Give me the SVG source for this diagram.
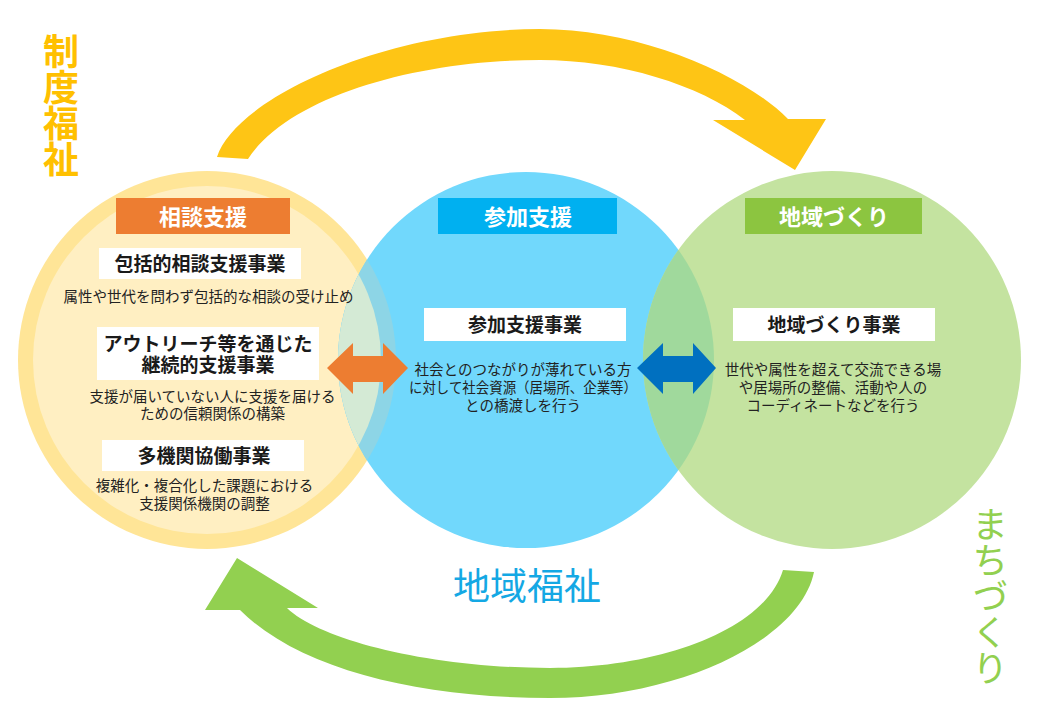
<svg xmlns="http://www.w3.org/2000/svg" width="1040" height="720" viewBox="0 0 1040 720">
<style>
text{font-family:"Noto Sans CJK JP","Noto Sans",sans-serif;}
.hd{font-size:22px;font-weight:700;fill:#fff;text-anchor:middle}
.sub{font-size:19px;font-weight:700;fill:#1a1a1a;text-anchor:middle}
.body{font-size:14.5px;fill:#222;text-anchor:middle}
.wbox{fill:#fff}
.vt{writing-mode:vertical-rl;font-size:36px}
</style>
<defs>
<clipPath id="clipBlue"><circle cx="526" cy="360" r="188"/></clipPath>
</defs>
<rect width="1040" height="720" fill="#fff"/>
<g id="venn">
<circle cx="207" cy="360" r="189" fill="#FFE597"/>
<circle cx="207" cy="360" r="174" fill="#FFEFC2"/>
<circle cx="526" cy="360" r="188" fill="#71D8FC"/>
<circle cx="832" cy="360" r="189" fill="#C4E3A0"/>
<g clip-path="url(#clipBlue)">
<circle cx="207" cy="360" r="189" fill="#8DD5E6"/>
<circle cx="207" cy="360" r="174" fill="#D4EAD5"/>
<circle cx="832" cy="360" r="189" fill="#A0D99C"/>
</g>
</g>
<g id="connectors">
<path id="cycle-top" fill="#FEC515" d="M217,157 C235,100 380,30 540,29 C640,29 745,75 788,119 L826,119 L795,170 L713,120 L745,120 C700,85 620,60 540,60 C420,60 290,95 248,159 Z"/>
<path id="cycle-bottom" fill="#92D050" d="M814,572 C800,640 680,698 550,698 C420,698 300,670 240,610 L205,610 L237,558 L318,608 L287,608 C320,640 430,668 550,668 C660,668 765,630 783,570 Z"/>
<polygon id="arrow-soudan-sanka" fill="#ED7D31" points="327,368 353,343 353,356 383,356 383,343 408,368 383,394 383,382 353,382 353,394"/>
<polygon id="arrow-sanka-chiiki" fill="#0070C0" points="637,368 663,343 663,356 693,356 693,343 716,368 693,394 693,382 663,382 663,394"/>
</g>
<g id="node-soudan">
<rect x="116" y="198" width="174" height="36" fill="#ED7D31"/>
<text class="hd" x="203" y="224.5">相談支援</text>
<rect class="wbox" x="99" y="248" width="202" height="31"/>
<text class="sub" x="200" y="271">包括的相談支援事業</text>
<text class="body" x="208.5" y="302">属性や世代を問わず包括的な相談の受け止め</text>
<rect class="wbox" x="97" y="327" width="222" height="53"/>
<text class="sub" x="208" y="351"><tspan x="208" y="351">アウトリーチ等を通じた</tspan><tspan x="208" y="372">継続的支援事業</tspan></text>
<text class="body" x="212.5" y="401.5"><tspan x="212.5" y="401.5">支援が届いていない人に支援を届ける</tspan><tspan x="212.5" y="418.5">ための信頼関係の構築</tspan></text>
<rect class="wbox" x="102" y="440" width="202" height="31"/>
<text class="sub" x="204" y="462.5">多機関協働事業</text>
<text class="body" x="204.5" y="490.5"><tspan x="204.5" y="490.5">複雑化・複合化した課題における</tspan><tspan x="204.5" y="508.5">支援関係機関の調整</tspan></text>
</g>
<g id="node-sanka">
<rect x="438" y="198" width="179" height="36" fill="#00B0F0"/>
<text class="hd" x="528" y="224.5">参加支援</text>
<rect class="wbox" x="424" y="308" width="202" height="33"/>
<text class="sub" x="525" y="332">参加支援事業</text>
<text class="body" x="523" y="375"><tspan x="523" y="375">社会とのつながりが薄れている方</tspan><tspan x="523" y="393" textLength="228" lengthAdjust="spacingAndGlyphs">に対して社会資源（居場所、企業等）</tspan><tspan x="523" y="411">との橋渡しを行う</tspan></text>
</g>
<g id="node-chiiki">
<rect x="745" y="198" width="177" height="36" fill="#8CC540"/>
<text class="hd" x="834" y="224.5">地域づくり</text>
<rect class="wbox" x="733" y="308" width="202" height="33"/>
<text class="sub" x="834" y="332">地域づくり事業</text>
<text class="body" x="833" y="375"><tspan x="833" y="375">世代や属性を超えて交流できる場</tspan><tspan x="833" y="393">や居場所の整備、活動や人の</tspan><tspan x="833" y="411">コーディネートなどを行う</tspan></text>
</g>
<g id="labels">
<text class="vt" x="61" y="33" fill="#FFC000" font-weight="700">制度福祉</text>
<text class="vt" x="990" y="506" fill="#92D050">まちづくり</text>
<text x="527" y="600" font-size="37" fill="#14A8E4" text-anchor="middle">地域福祉</text>
</g>
</svg>
